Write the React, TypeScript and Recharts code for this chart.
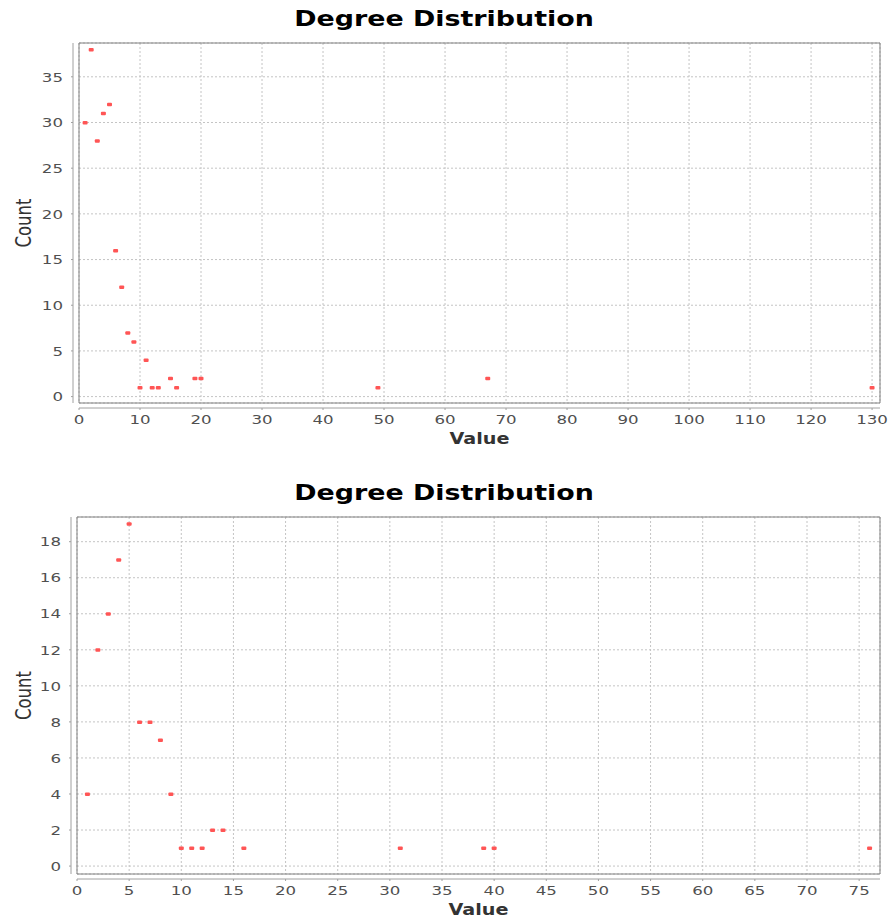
import React from "react"
import { ScatterChart, Scatter, XAxis, YAxis, CartesianGrid, ReferenceArea } from "recharts"

// first network: degree value -> count
const topValues = [1, 2, 3, 4, 5, 6, 7, 8, 9, 10, 11, 12, 13, 15, 16, 19, 20, 49, 67, 130]
const topCounts = [30, 38, 28, 31, 32, 16, 12, 7, 6, 1, 4, 1, 1, 2, 1, 2, 2, 1, 2, 1]
const topXTicks = [0, 10, 20, 30, 40, 50, 60, 70, 80, 90, 100, 110, 120, 130]
const topYTicks = [0, 5, 10, 15, 20, 25, 30, 35]

// second network
const bottomValues = [1, 2, 3, 4, 5, 6, 7, 8, 9, 10, 11, 12, 13, 14, 16, 31, 39, 40, 76]
const bottomCounts = [4, 12, 14, 17, 19, 8, 8, 7, 4, 1, 1, 1, 2, 2, 1, 1, 1, 1, 1]
const bottomXTicks = [0, 5, 10, 15, 20, 25, 30, 35, 40, 45, 50, 55, 60, 65, 70, 75]
const bottomYTicks = [0, 2, 4, 6, 8, 10, 12, 14, 16, 18]

const chartTitle = "Degree Distribution"
const xLabel = "Value"
const yLabel = "Count"

// the source picture is stretched sideways, text is scaled to follow it
const STRETCH = 1.28
const FONT = "'DejaVu Sans', Verdana, sans-serif"
const AXIS_GRAY = "#a0a0a0"

const XTick = ({ x, y, payload }: any) => (
  <g transform={`translate(${x},${y})`}>
    <text transform={`scale(${STRETCH},1)`} textAnchor="middle" dy="0.71em" fontSize={13} fill="#505050" fontFamily={FONT}>
      {payload.value}
    </text>
  </g>
)

const YTick = ({ x, y, payload }: any) => (
  <g transform={`translate(${x},${y})`}>
    <text transform={`scale(${STRETCH},1)`} textAnchor="end" dy="0.36em" fontSize={13} fill="#505050" fontFamily={FONT}>
      {payload.value}
    </text>
  </g>
)

const renderXLabel = (props: any) => {
  const { x, y, width } = props.viewBox
  return (
    <text
      transform={`translate(${x + width / 2},${y + 40.5}) scale(${STRETCH},1)`}
      textAnchor="middle"
      fontSize={15}
      fontWeight="bold"
      fill="#333"
      fontFamily={FONT}
    >
      {xLabel}
    </text>
  )
}

const renderYLabel = (props: any) => {
  const { x, y, height } = props.viewBox
  return (
    <text
      transform={`translate(${x + 23},${y + height / 2}) rotate(-90) scale(1,${STRETCH})`}
      textAnchor="middle"
      dy="0.36em"
      fontSize={16.5}
      fill="#333"
      fontFamily={FONT}
    >
      {yLabel}
    </text>
  )
}

const Dot = ({ cx, cy }: any) => <rect x={cx - 2.5} y={cy - 1.5} width={5} height={3.5} rx={1} fill="#ff5555" />

interface DegreeChartProps {
  values: number[]
  counts: number[]
  xDomain: [number, number]
  yDomain: [number, number]
  xTicks: number[]
  yTicks: number[]
  height: number
  axisWidth: number
  bottomMargin: number
}

const DegreeChart = ({ values, counts, xDomain, yDomain, xTicks, yTicks, height, axisWidth, bottomMargin }: DegreeChartProps) => {
  const data = values.map((v, i) => ({ value: v, count: counts[i] }))

  return (
    <ScatterChart width={890} height={height} margin={{ top: 43, right: 10, bottom: bottomMargin, left: 0 }}>
      <text
        transform={`translate(444,26) scale(${STRETCH},1)`}
        textAnchor="middle"
        fontSize={21}
        fontWeight="bold"
        fill="#000"
        fontFamily={FONT}
      >
        {chartTitle}
      </text>
      <CartesianGrid stroke="#c4c4c4" strokeDasharray="2 2" />
      <XAxis
        type="number"
        dataKey="value"
        domain={xDomain}
        ticks={xTicks}
        interval={0}
        allowDataOverflow
        height={40}
        tickSize={2}
        tickMargin={10}
        axisLine={{ stroke: AXIS_GRAY, transform: "translate(0,5)" }}
        tickLine={{ stroke: AXIS_GRAY, transform: "translate(0,5)" }}
        tick={<XTick />}
        label={{ value: xLabel, content: renderXLabel }}
      />
      <YAxis
        type="number"
        dataKey="count"
        domain={yDomain}
        ticks={yTicks}
        interval={0}
        allowDataOverflow
        width={axisWidth}
        tickSize={2}
        tickMargin={14}
        axisLine={{ stroke: AXIS_GRAY, transform: "translate(-6,0)" }}
        tickLine={{ stroke: AXIS_GRAY, transform: "translate(-6,0)" }}
        tick={<YTick />}
        label={{ value: yLabel, content: renderYLabel }}
      />
      <ReferenceArea x1={xDomain[0]} x2={xDomain[1]} y1={yDomain[0]} y2={yDomain[1]} fill="none" stroke="#808080" strokeWidth={1} />
      <Scatter data={data} shape={<Dot />} isAnimationActive={false} />
    </ScatterChart>
  )
}

export default function App() {
  return (
    <div style={{ position: "absolute", left: 0, top: 0, width: 890, height: 924, background: "#fff" }}>
      <div style={{ position: "absolute", left: 0, top: 0 }}>
        <DegreeChart
          values={topValues}
          counts={topCounts}
          xDomain={[0, 131.3]}
          yDomain={[-0.7, 38.7]}
          xTicks={topXTicks}
          yTicks={topYTicks}
          height={462}
          axisWidth={79}
          bottomMargin={19}
        />
      </div>
      <div style={{ position: "absolute", left: 0, top: 474 }}>
        <DegreeChart
          values={bottomValues}
          counts={bottomCounts}
          xDomain={[0, 77]}
          yDomain={[-0.44, 19.37]}
          xTicks={bottomXTicks}
          yTicks={bottomYTicks}
          height={450}
          axisWidth={77}
          bottomMargin={10}
        />
      </div>
    </div>
  )
}
